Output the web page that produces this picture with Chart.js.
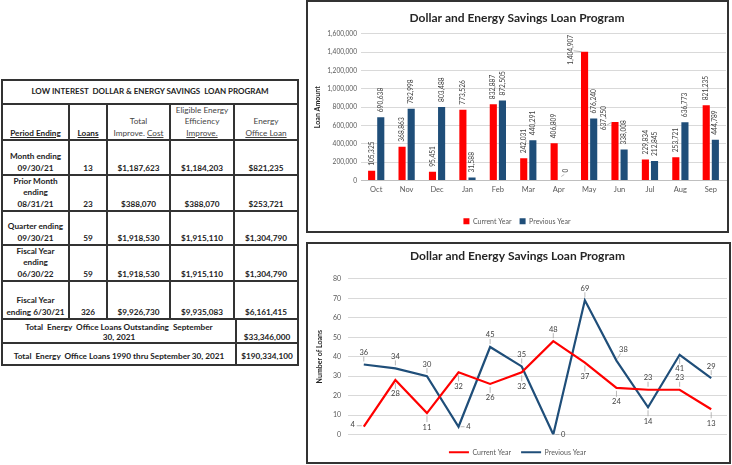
<!DOCTYPE html>
<html><head><meta charset="utf-8">
<script src="https://cdn.jsdelivr.net/npm/chart.js@4.4.0/dist/chart.umd.min.js"></script>
<style>
html,body{margin:0;padding:0;background:#fff;width:732px;height:465px;overflow:hidden;font-family:Lato,sans-serif;}
.box{position:absolute;border:2px solid #333;box-sizing:border-box;background:#fff}
.box canvas{position:absolute;left:0;top:0}
.ln{position:absolute;background:#333}
.cell{position:absolute;display:flex;flex-direction:column;justify-content:flex-end;align-items:center;text-align:center;font-size:8.2px;line-height:11.5px;color:#222;box-sizing:border-box;padding-bottom:1px;white-space:nowrap}
.b{font-weight:bold}
.u{text-decoration:underline}
.g{font-weight:normal;color:#444}
</style></head>
<body>
<div id="tbl"></div>
<div class="box" id="box1" style="left:306px;top:0px;width:423px;height:233px"><canvas id="c1"></canvas></div>
<div class="box" id="box2" style="left:306px;top:242px;width:425px;height:222px"><canvas id="c2"></canvas></div>
<script>
// ---------- DATA ----------
const months = ['Oct','Nov','Dec','Jan','Feb','Mar','Apr','May','Jun','Jul','Aug','Sep'];
const seriesNames = ['Current Year','Previous Year'];
const loanAmountCurrent  = [105325,368863,95451,773526,832887,242031,406809,1404907,637250,229834,253721,821235];
const loanAmountPrevious = [690638,782998,803488,31588,872505,440291,0,676240,338008,212845,636773,444789];
const loanCountCurrent  = [4,28,11,32,26,32,48,37,24,23,23,13];
const loanCountPrevious = [36,34,30,4,45,35,0,69,38,14,41,29];
const amountAxisMax = 1600000, amountAxisStep = 200000;
const countAxisMax = 80, countAxisStep = 10;
const chartTitle = 'Dollar and Energy Savings Loan Program';

// table text
const tableTitle = 'LOW INTEREST&nbsp; DOLLAR &amp; ENERGY SAVINGS&nbsp; LOAN PROGRAM';
const periodLabels = [['Month ending','09/30/21'],['Prior Month','ending','08/31/21'],['Quarter ending','09/30/21'],['Fiscal Year','ending','06/30/22'],['Fiscal Year','ending 6/30/21']];
const periodLoans = ['13','23','59','59','326'];
const periodTotalCost = ['$1,187,623','$388,070','$1,918,530','$1,918,530','$9,926,730'];
const periodEligible = ['$1,184,203','$388,070','$1,915,110','$1,915,110','$9,935,083'];
const periodOfficeLoan = ['$821,235','$253,721','$1,304,790','$1,304,790','$6,161,415'];
const totalRows = [[['Total&nbsp; Energy&nbsp; Office Loans Outstanding&nbsp; September','30, 2021'],'$33,346,000'],[['Total&nbsp; Energy&nbsp; Office Loans 1990 thru September 30, 2021'],'$190,334,100']];

// ---------- label placement (style) ----------
const barLabelPlace = [
  ['t','t','t','t','t','t','t','l','l','t','t','t'],
  ['t','t','t','t','t','t','t','t','t','t','t','t']
];
const lineLabelPlace = [
  ['l','b','b','b','b','b','a','b','b','a','a','b'],
  ['a','a','a','r','a','a','r','a','ar','b','b','a']
];

// ---------- TABLE ----------
(function(){
  const t = document.getElementById('tbl');
  const X = [2,69,107,170,234,298];
  const Y = [80,104,140,175,211,245,281,319,343,365];
  const XS = 236;
  function line(x,y,w,h){const d=document.createElement('div');d.className='ln';d.style.cssText=`left:${x}px;top:${y}px;width:${w}px;height:${h}px`;t.appendChild(d);}
  Y.forEach(y=>line(X[0]-1,y-1,X[5]-X[0]+2,2));
  line(X[0]-1,Y[0]-1,2,Y[9]-Y[0]+2);
  line(X[5]-1,Y[0]-1,2,Y[9]-Y[0]+2);
  for(let i=1;i<5;i++) line(X[i]-1,Y[1],2,Y[7]-Y[1]);
  line(XS-1,Y[7],2,Y[9]-Y[7]);
  function cell(x0,y0,x1,y1,html,cls,extra){const d=document.createElement('div');d.className='cell '+(cls||'');d.style.cssText=`left:${x0}px;top:${y0}px;width:${x1-x0}px;height:${y1-y0}px;`+(extra||'');d.innerHTML=html;t.appendChild(d);}
  cell(X[0],Y[0],X[5],Y[1],`<div>${tableTitle}</div>`,'b','justify-content:center;font-size:8px;padding-bottom:0');
  cell(X[0],Y[1],X[1],Y[2],'<div class="u">Period Ending</div>','b');
  cell(X[1],Y[1],X[2],Y[2],'<div class="u">Loans</div>','b');
  cell(X[2],Y[1],X[3],Y[2],'<div>Total</div><div>Improve. <span class="u">Cost</span></div>','g');
  cell(X[3],Y[1],X[4],Y[2],'<div>Eligible Energy</div><div>Efficiency</div><div class="u">Improve.</div>','g');
  cell(X[4],Y[1],X[5],Y[2],'<div>Energy</div><div class="u">Office Loan</div>','g');
  for(let r=0;r<5;r++){
    const y0=Y[2+r], y1=Y[3+r];
    cell(X[0],y0,X[1],y1,periodLabels[r].map(s=>`<div>${s}</div>`).join(''),'b');
    cell(X[1],y0,X[2],y1,`<div>${periodLoans[r]}</div>`,'b');
    cell(X[2],y0,X[3],y1,`<div>${periodTotalCost[r]}</div>`,'b');
    cell(X[3],y0,X[4],y1,`<div>${periodEligible[r]}</div>`,'b');
    cell(X[4],y0,X[5],y1,`<div>${periodOfficeLoan[r]}</div>`,'b');
  }
  cell(X[0],Y[7],XS,Y[8],totalRows[0][0].map(s=>`<div>${s}</div>`).join(''),'b','line-height:10px;padding-bottom:1px');
  cell(XS,Y[7],X[5],Y[8],`<div>${totalRows[0][1]}</div>`,'b','line-height:10px;padding-bottom:1px');
  cell(X[0],Y[8],XS,Y[9],`<div>${totalRows[1][0][0]}</div>`,'b','padding-bottom:3px');
  cell(XS,Y[8],X[5],Y[9],`<div>${totalRows[1][1]}</div>`,'b','padding-bottom:3px');
})();

// ---------- CHARTS ----------
const RED='#FF0000', BLUE='#1F4E79', LBL='#404040';
const fmt = v => v.toLocaleString('en-US');
Chart.defaults.font.family = 'Lato, sans-serif';
Chart.defaults.animation = false;
Chart.defaults.devicePixelRatio = 1;

function sizeCanvas(id, boxId){
  const b=document.getElementById(boxId);
  const c=document.getElementById(id);
  c.width=b.clientWidth; c.height=b.clientHeight;
  c.style.width=b.clientWidth+'px'; c.style.height=b.clientHeight+'px';
  return c;
}

// nudges the legend vertically after layout
const legendShift = {
  id:'legendShift',
  afterLayout(chart, args, opts){
    const l = chart.legend; const d = opts.dy || 0;
    if(l){ l.top += d; l.bottom += d; }
  }
};

const barLabelPlugin = {
  id:'barLabels',
  afterDatasetsDraw(chart){
    const ctx=chart.ctx;
    ctx.save();
    ctx.font='6.6px Lato'; ctx.fillStyle=LBL; ctx.strokeStyle='#a6a6a6'; ctx.lineWidth=0.8;
    chart.data.datasets.forEach((ds,di)=>{
      const meta=chart.getDatasetMeta(di);
      meta.data.forEach((bar,i)=>{
        const txt=fmt(ds.data[i]);
        const p=barLabelPlace[di][i];
        ctx.save();
        if(p==='t'){
          let off = ds.data[i]===0 ? 8 : 5;
          if(ds.data[i]===0){ctx.beginPath();ctx.moveTo(bar.x-2,bar.y-4);ctx.lineTo(bar.x+1,bar.y-6);ctx.stroke();}
          ctx.translate(bar.x+(ds.data[i]===0?3:0), bar.y-off);
          ctx.rotate(-Math.PI/2); ctx.textAlign='left'; ctx.textBaseline='middle';
          ctx.fillText(txt,0,0);
        } else {
          const dx = i===7 ? -14 : -11;
          ctx.beginPath(); ctx.moveTo(bar.x+dx+3, bar.y+(i===7?-1:3)); ctx.lineTo(bar.x-3, bar.y); ctx.stroke();
          ctx.translate(bar.x+dx, bar.y-(i===7?2:4));
          ctx.rotate(-Math.PI/2); ctx.textAlign='center'; ctx.textBaseline='middle';
          ctx.fillText(txt,0,0);
        }
        ctx.restore();
      });
    });
    ctx.restore();
  }
};

const lineLabelPlugin = {
  id:'lineLabels',
  afterDatasetsDraw(chart){
    const ctx=chart.ctx;
    ctx.save();
    ctx.font='7.5px Lato'; ctx.fillStyle=LBL; ctx.strokeStyle='#a6a6a6'; ctx.lineWidth=0.8;
    ctx.textAlign='center'; ctx.textBaseline='middle';
    chart.data.datasets.forEach((ds,di)=>{
      const meta=chart.getDatasetMeta(di);
      meta.data.forEach((pt,i)=>{
        const txt=String(ds.data[i]);
        const p=lineLabelPlace[di][i];
        let lx=pt.x, ly=pt.y, l1, l2;
        if(p==='a'){ly=pt.y-12; l1=[pt.x,pt.y-3]; l2=[pt.x,pt.y-8];}
        else if(p==='b'){ly=pt.y+14; l1=[pt.x,pt.y+3]; l2=[pt.x,pt.y+9];}
        else if(p==='l'){lx=pt.x-11; ly=pt.y-2; l1=[pt.x-2,pt.y-1]; l2=[pt.x-7,pt.y-1];}
        else if(p==='r'){lx=pt.x+10; ly=pt.y; l1=[pt.x+2,pt.y]; l2=[pt.x+6,pt.y];}
        else if(p==='ar'){lx=pt.x+7; ly=pt.y-11; l1=[pt.x+1,pt.y-2]; l2=[pt.x+4,pt.y-7];}
        ctx.beginPath(); ctx.moveTo(l1[0],l1[1]); ctx.lineTo(l2[0],l2[1]); ctx.stroke();
        ctx.fillText(txt,lx,ly);
      });
    });
    ctx.restore();
  }
};

// Bar chart
new Chart(sizeCanvas('c1','box1'), {
  type:'bar',
  data:{labels:months,datasets:[
    {label:seriesNames[0],data:loanAmountCurrent,backgroundColor:RED,categoryPercentage:0.6,barPercentage:0.78},
    {label:seriesNames[1],data:loanAmountPrevious,backgroundColor:BLUE,categoryPercentage:0.6,barPercentage:0.78}
  ]},
  options:{
    responsive:false, maintainAspectRatio:false,
    layout:{padding:{left:0,right:1,top:0,bottom:0}},
    plugins:{
      title:{display:true,text:chartTitle,color:'#262626',font:{size:12,weight:'bold'},padding:{top:8.5,bottom:9}},
      legend:{position:'bottom',labels:{boxWidth:6,boxHeight:6,padding:8,color:'#595959',font:{size:7}}},
      legendShift:{dy:3.75},
      tooltip:{enabled:false}
    },
    scales:{
      x:{grid:{display:false,drawTicks:false},border:{color:'#bfbfbf'},ticks:{color:'#595959',font:{size:7.5},padding:5},afterFit(s){s.height=25.5;}},
      y:{min:0,max:amountAxisMax,ticks:{stepSize:amountAxisStep,color:'#595959',font:{size:6.6},padding:4,callback:v=>fmt(v)},
         grid:{color:'#d9d9d9',drawTicks:false},border:{display:false},
         title:{display:true,text:'Loan Amount',color:'#262626',font:{size:7,weight:'bold'},padding:{top:6,bottom:0}},
         afterFit(s){s.width=53;}}
    }
  },
  plugins:[barLabelPlugin, legendShift]
});

// Line chart
new Chart(sizeCanvas('c2','box2'), {
  type:'line',
  data:{labels:months,datasets:[
    {label:seriesNames[0],data:loanCountCurrent,borderColor:RED,backgroundColor:RED,borderWidth:2.2,pointRadius:0,tension:0},
    {label:seriesNames[1],data:loanCountPrevious,borderColor:BLUE,backgroundColor:BLUE,borderWidth:2.2,pointRadius:0,tension:0}
  ]},
  options:{
    responsive:false, maintainAspectRatio:false,
    layout:{padding:{left:0,right:2,top:0,bottom:0}},
    plugins:{
      title:{display:true,text:chartTitle,color:'#262626',font:{size:12,weight:'bold'},padding:{top:4.5,bottom:16}},
      legend:{position:'bottom',labels:{usePointStyle:true,pointStyle:'line',pointStyleWidth:20,boxHeight:7,padding:10,color:'#595959',font:{size:7}}},
      legendShift:{dy:3.75},
      tooltip:{enabled:false}
    },
    scales:{
      x:{offset:true,grid:{display:false,drawTicks:false},border:{display:false},ticks:{color:'#595959',font:{size:7.5},padding:5},afterFit(s){s.height=0.5;}},
      y:{min:0,max:countAxisMax,ticks:{stepSize:countAxisStep,color:'#595959',font:{size:7},padding:7},
         grid:{color:'#d9d9d9',drawTicks:false},border:{display:false},
         title:{display:true,text:'Number of Loans',color:'#262626',font:{size:7,weight:'bold'},padding:{top:8,bottom:0}},
         afterFit(s){s.width=40;}}
    }
  },
  plugins:[lineLabelPlugin, legendShift]
});
</script>
</body></html>
